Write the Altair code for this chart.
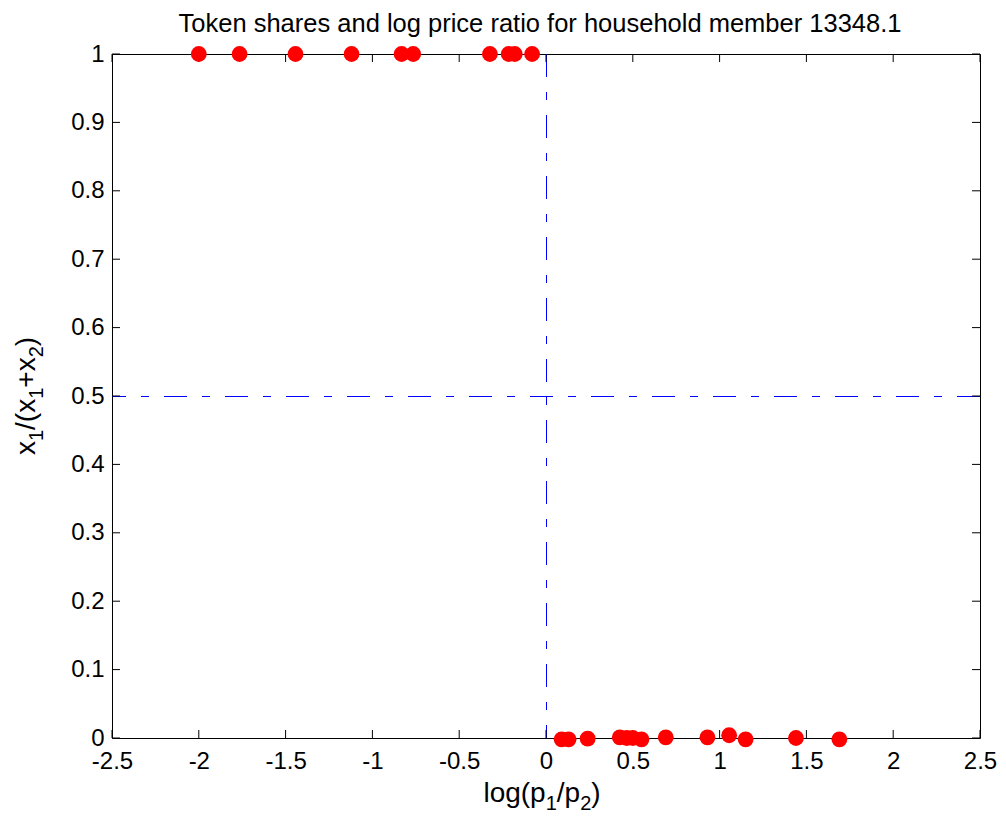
import altair as alt
import pandas as pd

title_text = "Token shares and log price ratio for household member 13348.1"
# axis titles as (text, is_subscript) pieces
x_title_pieces = [("log(p", False), ("1", True), ("/p", False), ("2", True), (")", False)]
y_title_pieces = [("x", False), ("1", True), ("/(x", False), ("1", True), ("+x", False), ("2", True), (")", False)]

top_x = [-2.0, -1.765, -1.443, -1.12, -0.832, -0.765, -0.323, -0.215, -0.18, -0.08]
top_y = [1.0, 1.0, 1.0, 1.0, 1.0, 1.0, 1.0, 1.0, 1.0, 1.0]
bottom_x = [0.09, 0.13, 0.24, 0.425, 0.465, 0.5, 0.55, 0.69, 0.93, 1.055, 1.15, 1.44, 1.69]
bottom_y = [-0.002, -0.002, -0.001, 0.001, 0.0, 0.0, -0.002, 0.001, 0.001, 0.004, -0.002, 0.0, -0.002]

x_ticks = [-2.5, -2, -1.5, -1, -0.5, 0, 0.5, 1, 1.5, 2, 2.5]
y_ticks = [0, 0.1, 0.2, 0.3, 0.4, 0.5, 0.6, 0.7, 0.8, 0.9, 1]
ref_x = [0.0]
ref_y = [0.5]

W, H = 868, 684
TL = 8
FONT = "Liberation Sans"
dash = [23, 15, 8, 15]
MAIN_FS, SUB_FS, SUB_SHIFT = 28, 20, 8

# Arial / Liberation Sans advance widths (per 1000 em) for layout of the composed titles
ADV = {"l": 222, "o": 556, "g": 556, "(": 333, ")": 333, "p": 556, "/": 278,
       "x": 500, "+": 584, "1": 556, "2": 556}


def text_w(s, fs):
    return sum(ADV[c] for c in s) * fs / 1000.0


pts = pd.DataFrame({"x": top_x + bottom_x, "y": top_y + bottom_y})
xt = pd.DataFrame({"x": x_ticks})
yt = pd.DataFrame({"y": y_ticks})
rx = pd.DataFrame({"x": ref_x})
ry = pd.DataFrame({"y": ref_y})

xs = alt.Scale(domain=[-2.5, 2.5], nice=False, zero=False)
ys = alt.Scale(domain=[0, 1], nice=False, zero=False)

x_axis = alt.Axis(
    values=x_ticks,
    labelExpr="toString(datum.value)",
    title=None,
    ticks=False,
    grid=False,
    domain=False,
    labelPadding=11,
    labelFlush=False,
    labelOverlap=False,
)
y_axis = alt.Axis(
    values=y_ticks,
    labelExpr="toString(datum.value)",
    title=None,
    ticks=False,
    grid=False,
    domain=False,
    labelPadding=8,
    labelFlush=False,
    labelOverlap=False,
)

X = alt.X("x:Q", scale=xs, axis=x_axis)
Y = alt.Y("y:Q", scale=ys, axis=y_axis)

vline = alt.Chart(rx).mark_rule(
    color="#0000ff", strokeWidth=1, strokeDash=dash, xOffset=0.5
).encode(x=X)
hline = alt.Chart(ry).mark_rule(
    color="#0000ff", strokeWidth=1, strokeDash=dash, yOffset=0.5
).encode(y=Y)

tick_b = alt.Chart(xt).mark_rule(color="black", strokeWidth=1).encode(
    x=X, y=alt.value(H), y2=alt.value(H - TL)
)
tick_t = alt.Chart(xt).mark_rule(color="black", strokeWidth=1).encode(
    x=X, y=alt.value(0), y2=alt.value(TL)
)
tick_l = alt.Chart(yt).mark_rule(color="black", strokeWidth=1).encode(
    y=Y, x=alt.value(0), x2=alt.value(TL)
)
tick_r = alt.Chart(yt).mark_rule(color="black", strokeWidth=1).encode(
    y=Y, x=alt.value(W), x2=alt.value(W - TL)
)

points = alt.Chart(pts).mark_circle(size=250, color="#ff0000", opacity=1).encode(x=X, y=Y)

# chart title as a text mark
title_layer = alt.Chart(pd.DataFrame({"t": [title_text]})).mark_text(
    font=FONT, fontSize=25.5, color="black", align="center", baseline="alphabetic"
).encode(text="t:N", x=alt.value(W / 2 - 6), y=alt.value(-22))

# composed x-axis title with subscripts
layers_txt = []
tot = sum(text_w(s, SUB_FS if sub else MAIN_FS) for s, sub in x_title_pieces)
cx = W / 2 - 4 - tot / 2
for s, sub in x_title_pieces:
    fs = SUB_FS if sub else MAIN_FS
    layers_txt.append(
        alt.Chart(pd.DataFrame({"t": [s]})).mark_text(
            font=FONT, fontSize=fs, color="black", align="left", baseline="alphabetic"
        ).encode(text="t:N", x=alt.value(cx), y=alt.value(H + 64 + (SUB_SHIFT if sub else 0)))
    )
    cx += text_w(s, fs)

# composed y-axis title with subscripts (rotated, reading upwards)
tot = sum(text_w(s, SUB_FS if sub else MAIN_FS) for s, sub in y_title_pieces)
cy = H / 2 + tot / 2
for s, sub in y_title_pieces:
    fs = SUB_FS if sub else MAIN_FS
    layers_txt.append(
        alt.Chart(pd.DataFrame({"t": [s]})).mark_text(
            font=FONT, fontSize=fs, color="black", align="left", baseline="alphabetic", angle=270
        ).encode(text="t:N", x=alt.value(-77 + (SUB_SHIFT if sub else 0)), y=alt.value(cy))
    )
    cy -= text_w(s, fs)

chart = (
    alt.layer(vline, hline, tick_b, tick_t, tick_l, tick_r, points, title_layer, *layers_txt)
    .properties(
        width=W,
        height=H,
        autosize=alt.AutoSizeParams(type="none"),
        padding={"left": 104, "top": 46, "right": 18, "bottom": 73},
        background="white",
    )
    .configure_view(stroke="black", strokeWidth=1)
    .configure_axis(
        labelFont=FONT,
        labelFontSize=24,
        labelColor="black",
    )
)

chart.save("out.html", embed_options={"renderer": "svg", "actions": False})
